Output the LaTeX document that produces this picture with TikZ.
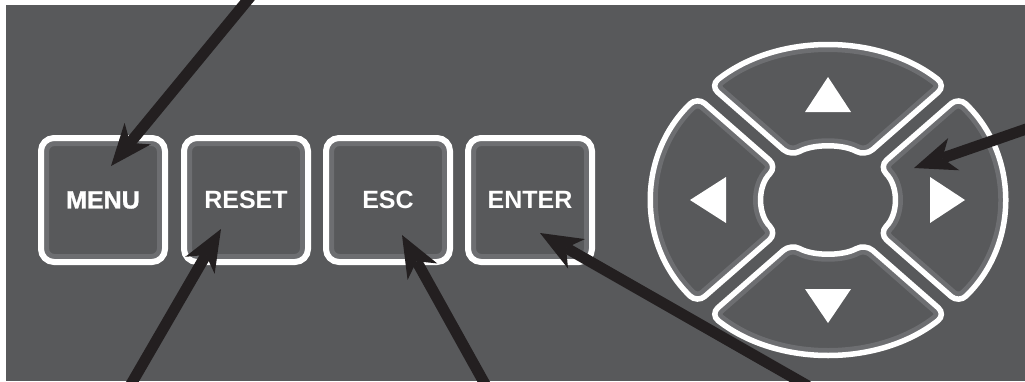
\documentclass[tikz,border=0pt]{standalone}
\usepackage{fontspec}
\setmainfont{Liberation Sans}
\newfontfamily\menufont[BoldFeatures={FakeBold=1.2}]{Liberation Sans}
\usetikzlibrary{arrows.meta}
\definecolor{panel}{HTML}{58595B}
\definecolor{rimc}{HTML}{6D6E71}
\definecolor{ink}{HTML}{231F20}
\newcommand\padkey[1]{%
  \fill[panel] #1;
  \begin{scope}\clip #1; \draw[rimc,line width=15pt] #1; \end{scope}
  \draw[white,line width=5.5pt] #1;}
\tikzset{
  keybtn/.style={draw=white, line width=6pt, fill=panel, rounded corners=13pt,
    minimum width=124pt, minimum height=124pt, inner sep=0pt, text=white,
    font=\fontsize{25}{25}\selectfont\bfseries,
    path picture={\draw[rimc,line width=5pt,rounded corners=8pt]
      ([shift={(5.5pt,5.5pt)}]path picture bounding box.south west) rectangle
      ([shift={(-5.5pt,-5.5pt)}]path picture bounding box.north east);}},
  tri/.style={fill=white},
  pointer/.style={draw=ink, line width=11pt,
    -{Stealth[length=42pt,width=34pt,inset=12pt,line width=0pt]}},
}
\begin{document}
\begin{tikzpicture}[x=1pt,y=1pt]
\useasboundingbox (0,0) rectangle (1025,-381);
\fill[white] (0,0) rectangle (1025,-381);
\fill[panel] (6,-5) rectangle (1025,-381);

% rectangular keys
\node[keybtn] (menu)  at (103,-200) {\menufont\bfseries MENU};
\node[keybtn] (reset) at (246,-200) {RESET};
\node[keybtn] (esc)   at (388,-200) {ESC};
\node[keybtn] (enter) at (530,-200) {ENTER};

% direction pad
\begin{scope}[shift={(828,-200)}, xscale=1.143]
  \padkey{[rounded corners=10pt] (-103.1,114.4) arc[start angle=132, end angle=48, radius=154]
     -- (32.44,43.76) arc[start angle=55.6, end angle=124.4, x radius=57.5, y radius=53] -- cycle}
  \padkey{[rounded corners=10pt] (103.1,-114.4) arc[start angle=-48, end angle=-132, radius=154]
     -- (-32.44,-43.76) arc[start angle=235.6, end angle=304.4, x radius=57.5, y radius=53] -- cycle}
  \padkey{[rounded corners=10pt] (-114.4,103.1) arc[start angle=138, end angle=222, radius=154]
     -- (-44.66,-33.34) arc[start angle=219, end angle=141, x radius=57.5, y radius=53] -- cycle}
  \padkey{[rounded corners=10pt] (114.4,-103.1) arc[start angle=-42, end angle=42, radius=154]
     -- (44.66,33.34) arc[start angle=39, end angle=-39, x radius=57.5, y radius=53] -- cycle}
\end{scope}
\fill[tri] (828,-77) -- (805,-112) -- (851,-112) -- cycle;
\fill[tri] (828,-323) -- (805,-289) -- (851,-289) -- cycle;
\fill[tri] (690,-200) -- (726,-177) -- (726,-223) -- cycle;
\fill[tri] (965,-200) -- (930,-177) -- (930,-223) -- cycle;

% pointers
\coordinate (menu-tip) at (111,-166);
\coordinate (menu-tail) at (251,4);
\coordinate (reset-tip) at (221,-229);
\coordinate (reset-tail) at (130,-386);
\coordinate (esc-tip) at (402,-235);
\coordinate (esc-tail) at (486,-386);
\coordinate (enter-tip) at (540,-233);
\coordinate (enter-tail) at (808,-386);
\coordinate (right-tip) at (914,-168);
\coordinate (right-tail) at (1032,-127);
\draw[pointer] (menu-tail) -- (menu-tip);
\draw[pointer] (reset-tail) -- (reset-tip);
\draw[pointer] (esc-tail) -- (esc-tip);
\draw[pointer] (enter-tail) -- (enter-tip);
\draw[pointer] (right-tail) -- (right-tip);
\end{tikzpicture}
\end{document}
